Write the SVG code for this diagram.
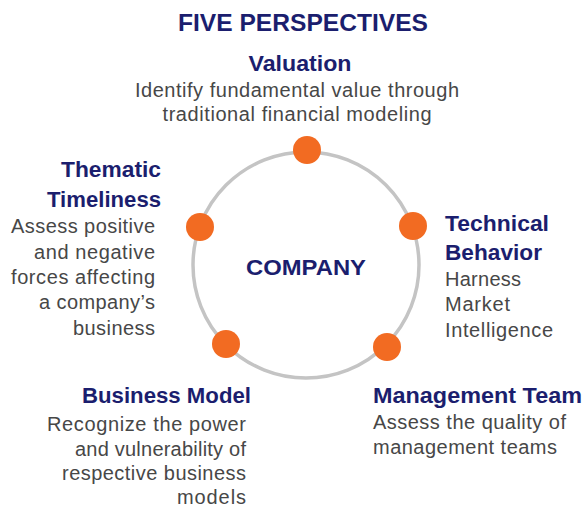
<svg xmlns="http://www.w3.org/2000/svg" width="584" height="506" viewBox="0 0 584 506">
<style>
.h{font-family:"Liberation Sans",Arial,sans-serif;font-weight:bold;fill:#1b1e6e;}
.t{font-size:21.5px;}
.b{font-family:"Liberation Sans",Arial,sans-serif;font-size:20px;fill:#474747;}
.dot{fill:#f26b22;}
.ring{fill:none;stroke:#c4c4c4;stroke-width:3.5;}
</style>
<rect width="584" height="506" fill="#ffffff"/>
<text class="h" x="303" y="31" font-size="23.5" text-anchor="middle" textLength="250" lengthAdjust="spacingAndGlyphs">FIVE PERSPECTIVES</text>
<g id="connectors">
<circle class="ring" cx="306" cy="265" r="113"/>
</g>
<g id="company">
<text class="h" x="306" y="275" font-size="22.5" text-anchor="middle" textLength="120" lengthAdjust="spacingAndGlyphs">COMPANY</text>
</g>
<g id="valuation">
<circle class="dot" cx="307" cy="150" r="14"/>
<text class="h t" x="300" y="71" text-anchor="middle" textLength="103" lengthAdjust="spacingAndGlyphs">Valuation</text>
<text class="b" x="297" y="97" text-anchor="middle" textLength="324">Identify fundamental value through</text>
<text class="b" x="297" y="121" text-anchor="middle" textLength="269">traditional financial modeling</text>
</g>
<g id="technical-behavior">
<circle class="dot" cx="413" cy="226" r="14"/>
<text class="h t" x="445" y="231" textLength="104" lengthAdjust="spacingAndGlyphs">Technical</text>
<text class="h t" x="445" y="260" textLength="97" lengthAdjust="spacingAndGlyphs">Behavior</text>
<text class="b" x="445" y="286" textLength="76">Harness</text>
<text class="b" x="445" y="311" textLength="65">Market</text>
<text class="b" x="445" y="336.5" textLength="108">Intelligence</text>
</g>
<g id="management-team">
<circle class="dot" cx="387" cy="347" r="14"/>
<text class="h t" x="373" y="402.5" textLength="209" lengthAdjust="spacingAndGlyphs">Management Team</text>
<text class="b" x="373" y="428.5" textLength="193">Assess the quality of</text>
<text class="b" x="373" y="453.5" textLength="184">management teams</text>
</g>
<g id="business-model">
<circle class="dot" cx="226" cy="344" r="14"/>
<text class="h t" x="251" y="403" text-anchor="end" textLength="169" lengthAdjust="spacingAndGlyphs">Business Model</text>
<text class="b" x="246" y="430.5" text-anchor="end" textLength="199">Recognize the power</text>
<text class="b" x="246" y="455.5" text-anchor="end" textLength="171">and vulnerability of</text>
<text class="b" x="246" y="480" text-anchor="end" textLength="184">respective business</text>
<text class="b" x="246" y="503.5" text-anchor="end" textLength="69">models</text>
</g>
<g id="thematic-timeliness">
<circle class="dot" cx="200" cy="227" r="14"/>
<text class="h t" x="161" y="177" text-anchor="end" textLength="100" lengthAdjust="spacingAndGlyphs">Thematic</text>
<text class="h t" x="161" y="206.5" text-anchor="end" textLength="114" lengthAdjust="spacingAndGlyphs">Timeliness</text>
<text class="b" x="155" y="233" text-anchor="end" textLength="144">Assess positive</text>
<text class="b" x="155" y="258.5" text-anchor="end" textLength="121">and negative</text>
<text class="b" x="155" y="284" text-anchor="end" textLength="144">forces affecting</text>
<text class="b" x="155" y="309" text-anchor="end" textLength="116">a company’s</text>
<text class="b" x="155" y="334.5" text-anchor="end" textLength="82">business</text>
</g>
</svg>
